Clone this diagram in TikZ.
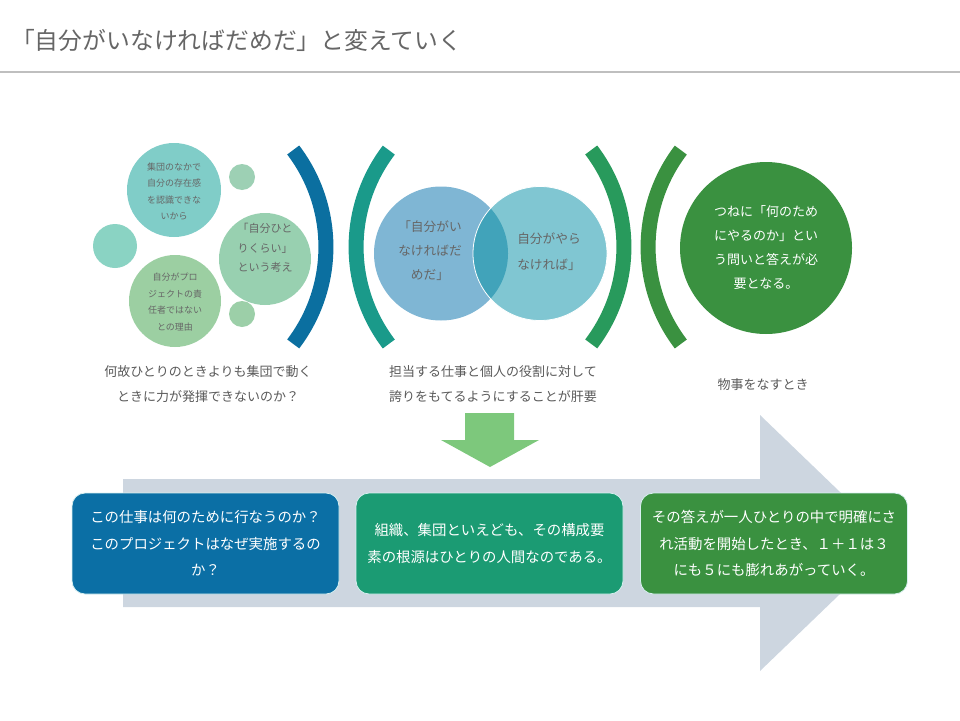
\documentclass[tikz,border=0pt]{standalone}
\usepackage{fontspec}
\setmainfont{Noto Sans CJK JP}
\definecolor{titlegray}{HTML}{666666}
\definecolor{capgray}{HTML}{595959}
\definecolor{rulegray}{HTML}{BFBFBF}
\definecolor{cA}{HTML}{80CDC8}
\definecolor{cB}{HTML}{9DD0B4}
\definecolor{cC}{HTML}{8AD3C3}
\definecolor{cD}{HTML}{98D0B0}
\definecolor{cE}{HTML}{9CCFA2}
\definecolor{cF}{HTML}{9CCFA8}
\definecolor{arcA}{HTML}{0B6FA0}
\definecolor{arcB}{HTML}{1A9A8A}
\definecolor{arcC}{HTML}{289A5C}
\definecolor{arcD}{HTML}{3A9140}
\definecolor{vennL}{HTML}{7FB6D4}
\definecolor{vennR}{HTML}{80C6D2}
\definecolor{vennM}{HTML}{41A3BA}
\definecolor{bigG}{HTML}{3A9140}
\definecolor{downG}{HTML}{7DC87C}
\definecolor{flowgray}{HTML}{CDD6E0}
\definecolor{boxA}{HTML}{0B6FA5}
\definecolor{boxB}{HTML}{1B9B73}
\definecolor{boxC}{HTML}{3A9140}
\definecolor{boxline}{HTML}{D8F0F0}
\begin{document}
\begin{tikzpicture}[x=1pt,y=-1pt,
  disc/.style={circle, inner sep=0pt, minimum size=#1},
  ctext/.style={align=center, inner sep=0pt, text=titlegray},
  captext/.style={align=center, inner sep=0pt, text=capgray, font=\fontsize{13}{25}\selectfont},
  arcline/.style={line width=15pt},
  flowbox/.style={rounded corners=13pt, minimum width=267pt, minimum height=101pt, inner sep=0pt,
    draw=boxline, line width=0.8pt, text=white, align=center, font=\fontsize{14.4}{26.5}\selectfont}
]
\useasboundingbox (0,0) rectangle (960,720);

% title
\node[anchor=west, inner sep=0pt, text=titlegray, font=\fontsize{23.8}{28}\selectfont] (title) at (11,40) {「自分がいなければだめだ」と変えていく};
\coordinate (ruleL) at (0,72);
\coordinate (ruleR) at (960,72);
\draw[rulegray, line width=2pt] (ruleL) -- (ruleR);

% left cluster of circles
\node[disc=94pt, fill=cA] (ca) at (174,190) {};
\node[disc=26pt, fill=cB] (cb) at (242,177) {};
\node[disc=44pt, fill=cC] (cc) at (115,246) {};
\node[disc=92pt, fill=cD] (cd) at (265,259) {};
\node[disc=92pt, fill=cE] (ce) at (175,301) {};
\node[disc=26pt, fill=cF] (cf) at (242,314) {};
\node[ctext, font=\fontsize{9}{16.5}\selectfont] (ta) at (174,191.5) {集団のなかで\\自分の存在感\\を認識できな\\いから};
\node[ctext, font=\fontsize{11}{19.5}\selectfont] (td) at (265,248) {「自分ひと\\りくらい」\\という考え};
\node[ctext, font=\fontsize{9}{16.5}\selectfont] (te) at (175,302) {自分がプロ\\ジェクトの責\\任者ではない\\との理由};

% arcs
\draw[arcline, arcA] (293.2,150) arc[start angle=-37.3, end angle=37.3, radius=160];
\draw[arcline, arcB] (388.8,344) arc[start angle=142.7, end angle=217.3, radius=160];
\draw[arcline, arcC] (591.2,150) arc[start angle=-37.3, end angle=37.3, radius=160];
\draw[arcline, arcD] (680.8,344) arc[start angle=142.7, end angle=217.3, radius=160];

% venn
\node[disc=134pt, fill=vennL] (vl) at (441,253.5) {};
\node[disc=134pt, fill=vennR] (vr) at (540,253.5) {};
\begin{scope}
  \clip (441,253.5) circle[radius=67];
  \fill[vennM] (540,253.5) circle[radius=67];
\end{scope}
\draw[white, line width=0.8pt] (540,253.5) circle[radius=67];
\node[ctext, font=\fontsize{12.7}{24}\selectfont] (tvl) at (430,251) {「自分がい\\なければだ\\めだ」};
\node[ctext, font=\fontsize{12.7}{26}\selectfont] (tvr) at (549,252) {自分がやら\\なければ」};

% big green circle
\node[disc=172pt, fill=bigG] (cg) at (766,248) {};
\node[ctext, text=white, font=\fontsize{13}{23.7}\selectfont] (tg) at (766,247.5) {つねに「何のため\\にやるのか」とい\\う問いと答えが必\\要となる。};

% captions
\node[captext] (cap1) at (208,384.5) {何故ひとりのときよりも集団で動く\\ときに力が発揮できないのか？};
\node[captext] (cap2) at (493,384.5) {担当する仕事と個人の役割に対して\\誇りをもてるようにすることが肝要};
\node[captext] (cap3) at (763,385) {物事をなすとき};

% green down arrow
\fill[downG] (465,413) -- (514,413) -- (514,440) -- (539,440) -- (490,467) -- (441,440) -- (465,440) -- cycle;

% big grey arrow
\fill[flowgray] (123,479) -- (760,479) -- (760,415) -- (893,543) -- (760,671) -- (760,607) -- (123,607) -- cycle;

% boxes
\node[flowbox, fill=boxA] (b1) at (205.5,543.5) {この仕事は何のために行なうのか？\\このプロジェクトはなぜ実施するの\\か？};
\node[flowbox, fill=boxB] (b2) at (489.5,543.5) {組織、集団といえども、その構成要\\素の根源はひとりの人間なのである。};
\node[flowbox, fill=boxC] (b3) at (774,543.5) {その答えが一人ひとりの中で明確にさ\\れ活動を開始したとき、１＋１は３\\にも５にも膨れあがっていく。};
\end{tikzpicture}
\end{document}
